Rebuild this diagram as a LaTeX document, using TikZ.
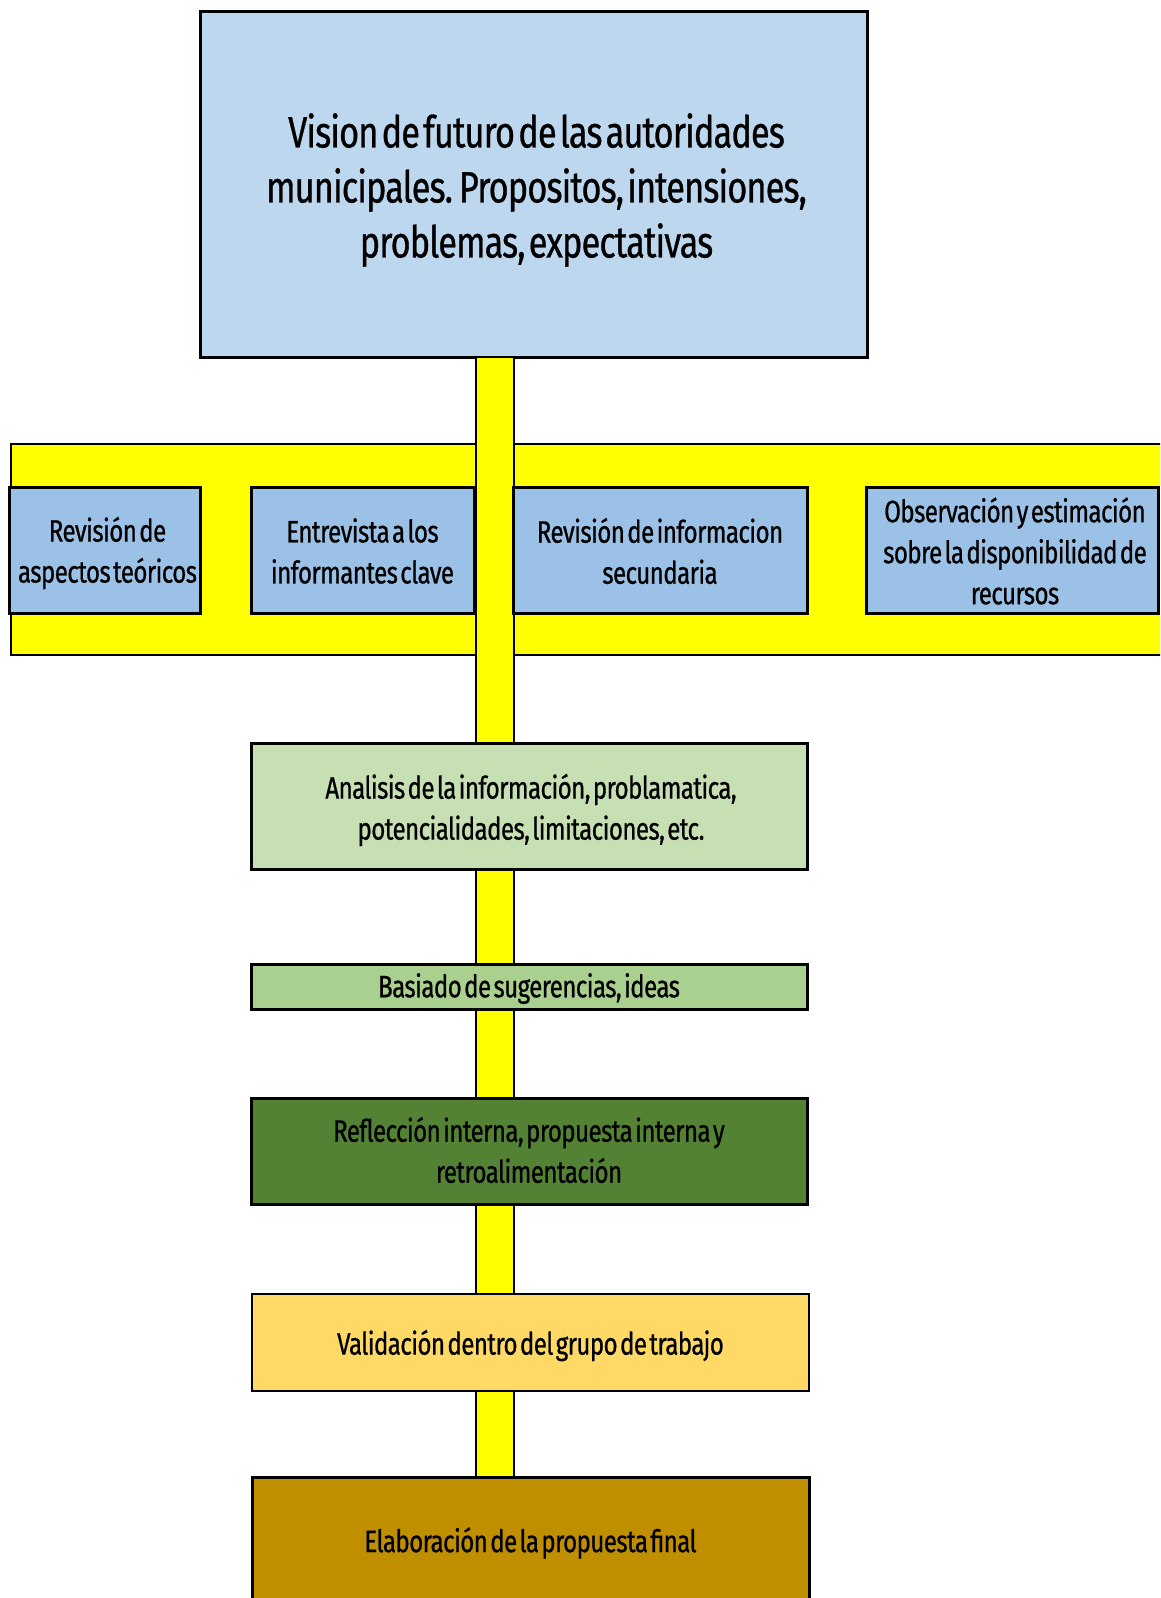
\documentclass[tikz,border=0pt]{standalone}
\usepackage{fontspec}
\setmainfont{Fira Sans}[FakeStretch=0.78,FakeBold=0.7,WordSpace=0.4,LetterSpace=-2]
\definecolor{topblue}{HTML}{BDD7EE}
\definecolor{boxblue}{HTML}{9BC2E6}
\definecolor{lgreen}{HTML}{C6E0B4}
\definecolor{mgreen}{HTML}{A9D08E}
\definecolor{dgreen}{HTML}{548235}
\definecolor{lgold}{HTML}{FFD966}
\definecolor{dgold}{HTML}{BF8F00}
\definecolor{band}{HTML}{FFFF00}
\begin{document}
\begin{tikzpicture}[x=1pt,y=-1pt,
  boxstyle/.style={draw=black,line width=3pt,rectangle,inner sep=0pt,outer sep=0pt},
  txt/.style={align=center,inner sep=0pt,font=\fontsize{31}{41}\selectfont},
  bigtext/.style={align=center,inner sep=0pt,font=\fontsize{44}{55}\selectfont},
  barstyle/.style={draw=black,line width=2pt,fill=band}]
\useasboundingbox (0,0) rectangle (1160,1598);
\clip (0,0) rectangle (1160,1598);
% band
\node[draw=black,line width=2pt,fill=band,minimum width=1154pt,minimum height=211pt,inner sep=0pt] (band) at (588,549.5) {};
% nodes
\node[boxstyle,fill=topblue,minimum width=667pt,minimum height=346pt] (top) at (533.5,184) {};
\node[boxstyle,fill=dgold,minimum width=557pt,minimum height=128pt] (final) at (530.5,1541) {};
% bar
\coordinate (bartop) at ([xshift=-38.5pt]top.south);
\coordinate (barbot) at ([xshift=-16pt]final.north);
\draw[barstyle] ([xshift=-19pt]bartop) rectangle ([xshift=19pt]barbot -| bartop);
% boxes
\node[boxstyle,fill=boxblue,minimum width=191pt,minimum height=126pt] (b1) at (104.5,550) {};
\node[boxstyle,fill=boxblue,minimum width=223pt,minimum height=126pt] (b2) at (362.5,550) {};
\node[boxstyle,fill=boxblue,minimum width=294pt,minimum height=126pt] (b3) at (660,550) {};
\node[boxstyle,fill=boxblue,minimum width=292pt,minimum height=126pt] (b4) at (1012,550) {};
\node[boxstyle,fill=lgreen,minimum width=556pt,minimum height=126pt] (ana) at (529,806) {};
\node[boxstyle,fill=mgreen,minimum width=556pt,minimum height=45pt] (bas) at (529,986.5) {};
\node[boxstyle,fill=dgreen,minimum width=556pt,minimum height=106pt] (ref) at (529,1151) {};
\node[boxstyle,line width=2.5pt,fill=lgold,minimum width=557pt,minimum height=97pt] (val) at (530.5,1342.5) {};
% texts
\node[bigtext] (ttop) at ([xshift=3pt,yshift=-6pt]top.center)
  {Vision de futuro de las autoridades\\municipales. Propositos, intensiones,\\problemas, expectativas};
\node[txt] (tb1) at ([xshift=3pt,yshift=-3pt]b1.center) {Revisión de\\aspectos teóricos};
\node[txt] (tb2) at ([yshift=-1pt]b2.center) {Entrevista a los\\informantes clave};
\node[txt] (tb3) at ([yshift=-1pt]b3.center) {Revisión de informacion\\secundaria};
\node[txt] (tb4) at ([xshift=3pt,yshift=-1pt]b4.center) {Observación y estimación\\sobre la disponibilidad de\\recursos};
\node[txt] (tana) at ([xshift=2pt,yshift=-4pt]ana.center) {Analisis de la información, problamatica,\\potencialidades, limitaciones, etc.};
\node[txt] (tbas) at ([yshift=-2pt]bas.center) {Basiado de sugerencias, ideas};
\node[txt] (tref) at ([yshift=1pt]ref.center) {Reflección interna, propuesta interna y\\retroalimentación};
\node[txt] (tval) at ([yshift=-3pt]val.center) {Validación dentro del grupo de trabajo};
\node[txt] (tfin) at ([yshift=-2pt]final.center) {Elaboración de la propuesta final};
\end{tikzpicture}
\end{document}
